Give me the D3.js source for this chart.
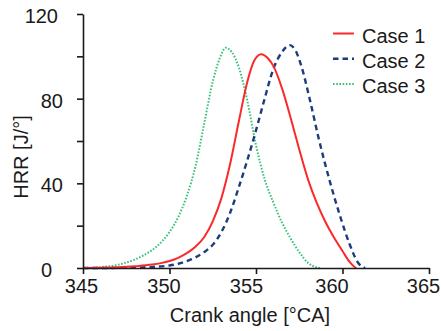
<!DOCTYPE html>
<html>
<head>
<meta charset="utf-8">
<script src="https://cdn.jsdelivr.net/npm/d3@7"></script>
<style>
  body { margin: 0; background: #fff; }
  svg text { font-family: "Liberation Sans", Arial, sans-serif; fill: #1a1a1a; }
</style>
</head>
<body>
<figure id="chart" style="margin:0"></figure>
<script>
const caseNames = ["Case 1", "Case 2", "Case 3"];
const colors = ["#fa2a2a", "#1d3d7a", "#3cc27a"];
const dashes = [null, "5.5,4", "1.6,1.6"];

const xTicks = [345, 350, 355, 360, 365];
const yTicks = [0, 20, 40, 60, 80, 100, 120];
const yLabels = [0, 40, 80, 120];
// the scanned labels do not sit exactly under their ticks
const xLabelShift = [-2, -6, -10, -11, -6];
const yLabelShift = { 0: -9, 40: 2, 80: 2, 120: -3 };

// crank angle / HRR pairs
const case1Angle = [345, 346, 347, 348, 349, 349.5, 350, 350.5, 351, 351.5, 352, 352.5, 353, 353.5, 354, 354.5, 354.9, 355.3, 355.7, 356, 356.5, 357, 357.5, 358, 358.5, 359, 359.5, 360, 360.4, 360.7, 360.8];
const case1Hrr   = [0, 0.1, 0.3, 0.8, 1.6, 2.3, 3.3, 4.8, 7, 10, 14.5, 22, 33, 49, 69, 88, 98, 101, 99, 95.5, 85, 71, 56, 42, 31, 22, 14.5, 8, 3, 0.5, 0];

const case2Angle = [345, 347, 348, 349, 350, 350.5, 351, 351.5, 352, 352.5, 353, 353.5, 354, 354.5, 355, 355.5, 356, 356.5, 356.95, 357.3, 357.6, 358.1, 358.6, 359.3, 359.9, 360.4, 360.9, 361.3];
const case2Hrr   = [0, 0.05, 0.2, 0.5, 1.2, 2, 3.3, 5, 7.5, 11, 17, 26, 38, 51, 65, 80, 94, 102, 105.3, 102.5, 96, 80, 62, 40, 23.5, 11.5, 2.5, 0];

const case3Angle = [345, 346, 347, 347.5, 348, 348.5, 349, 349.5, 350, 350.5, 351, 351.5, 352, 352.5, 352.9, 353.25, 353.6, 354, 354.5, 355, 355.5, 356, 356.5, 357, 357.5, 358, 358.5, 358.7];
const case3Hrr   = [0, 0.4, 1.5, 2.6, 4, 6, 8.5, 12, 17, 24, 34, 48, 68, 88, 99, 104, 102, 95, 79, 58, 42, 31, 21.5, 14, 7.5, 2.5, 0.3, 0];

const width = 441, height = 331;
const margin = { left: 83, right: 12, top: 14, bottom: 63 };

const svg = d3.select("figure#chart")
  .append("svg")
  .attr("width", width)
  .attr("height", height);

const x = d3.scaleLinear()
  .domain([345, 365])
  .range([margin.left, width - margin.right]);

const y = d3.scaleLinear()
  .domain([0, 120])
  .range([height - margin.bottom, margin.top]);

const series = [
  case1Angle.map((a, i) => [a, case1Hrr[i]]),
  case2Angle.map((a, i) => [a, case2Hrr[i]]),
  case3Angle.map((a, i) => [a, case3Hrr[i]])
];

const line = d3.line()
  .x(d => x(d[0]))
  .y(d => y(d[1]))
  .curve(d3.curveMonotoneX);

// case 3 first, case 1 ends up on top
[2, 1, 0].forEach(i => {
  svg.append("path")
    .datum(series[i])
    .attr("d", line)
    .attr("fill", "none")
    .attr("stroke", colors[i])
    .attr("stroke-width", i === 1 ? 2.4 : 2)
    .attr("stroke-dasharray", dashes[i]);
});

// axes
const xAxis = svg.append("g")
  .attr("transform", "translate(0," + y(0) + ")")
  .call(d3.axisBottom(x).tickValues(xTicks).tickSize(6).tickPadding(5).tickSizeOuter(0));

const yAxis = svg.append("g")
  .attr("transform", "translate(" + x(345) + ",0)")
  .call(d3.axisLeft(y).tickValues(yTicks).tickSize(6).tickPadding(16).tickSizeOuter(0)
    .tickFormat(d => yLabels.includes(d) ? d : ""));

[xAxis, yAxis].forEach(g => {
  g.select(".domain").attr("stroke", "#1a1a1a").attr("stroke-width", 1.6);
  g.selectAll(".tick line").attr("stroke", "#1a1a1a").attr("stroke-width", 1.6);
  g.selectAll("text").attr("font-size", 20).attr("fill", "#1a1a1a")
    .attr("font-family", "Liberation Sans, Arial, sans-serif");
});
xAxis.selectAll(".tick text").attr("dx", (d, i) => xLabelShift[i]);
yAxis.selectAll(".tick text")
  .attr("dy", "0.42em")
  .attr("dx", d => yLabelShift[d] || 0);

// axis titles
svg.append("text")
  .attr("x", 250)
  .attr("y", 322)
  .attr("text-anchor", "middle")
  .attr("font-size", 20)
  .text("Crank angle [°CA]");

svg.append("text")
  .attr("transform", "translate(28,157) rotate(-90)")
  .attr("text-anchor", "middle")
  .attr("font-size", 20)
  .text("HRR [J/°]");

// legend
const legend = svg.append("g").attr("transform", "translate(333,35)");
caseNames.forEach((name, i) => {
  const row = legend.append("g").attr("transform", "translate(0," + i * 25.3 + ")");
  row.append("line")
    .attr("x1", 0).attr("x2", 21)
    .attr("y1", -1.5).attr("y2", -1.5)
    .attr("stroke", colors[i])
    .attr("stroke-width", i === 1 ? 2.4 : 2)
    .attr("stroke-dasharray", dashes[i]);
  row.append("text")
    .attr("x", 29)
    .attr("y", 7.5)
    .attr("font-size", 20)
    .text(name);
});
</script>
</body>
</html>
